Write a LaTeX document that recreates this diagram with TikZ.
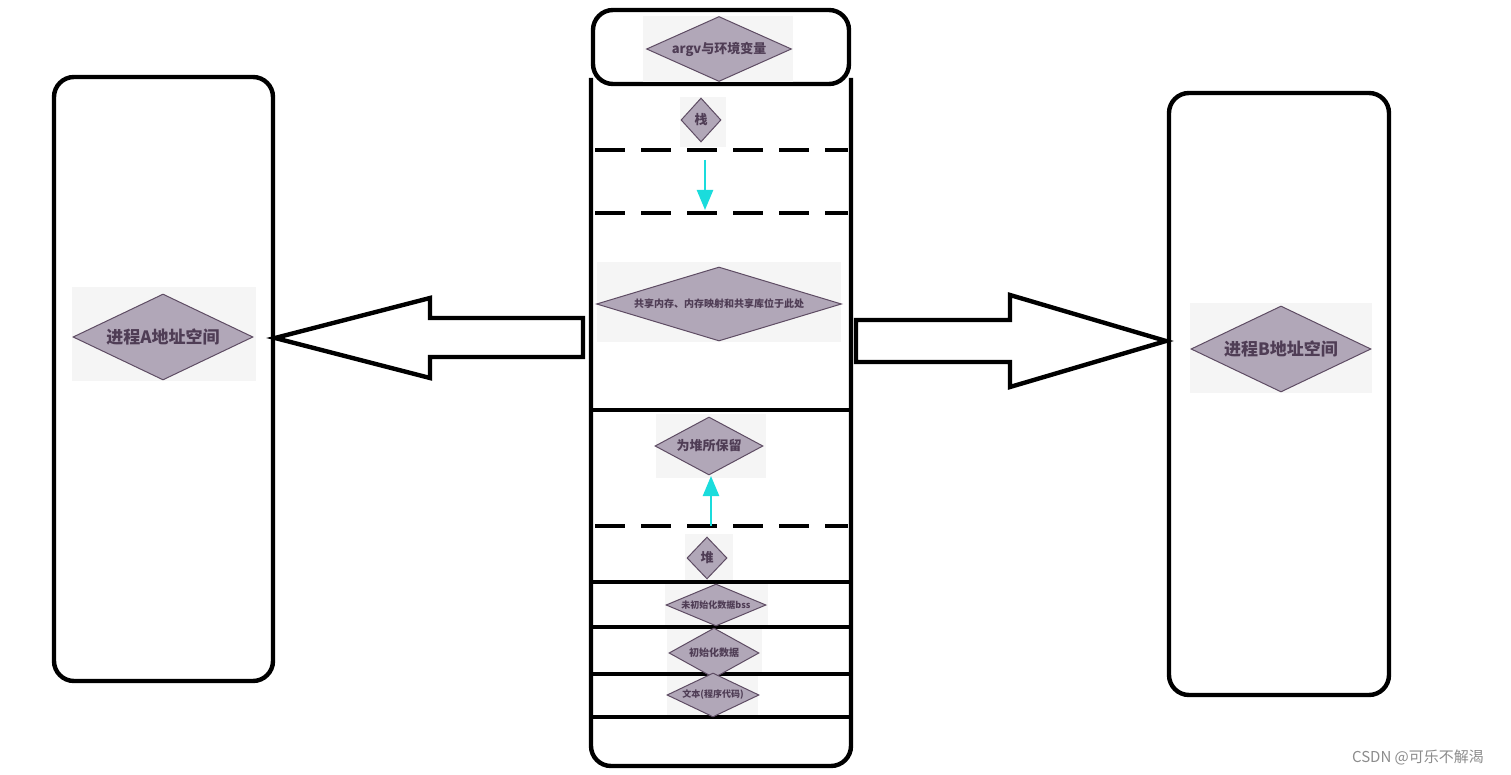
\documentclass[tikz,border=0pt]{standalone}
\usepackage{fontspec}
\setmainfont{Noto Sans CJK SC}
\usetikzlibrary{shapes.geometric,arrows.meta}
\definecolor{dfill}{HTML}{B1A7B8}
\definecolor{dline}{HTML}{5E4C63}
\definecolor{dtext}{HTML}{4F3D55}
\definecolor{arr}{HTML}{1ADCDC}
\tikzset{
 dia/.style={diamond,aspect=#1,draw=dline,fill=dfill,text=dtext,font=\bfseries,inner sep=0pt,line width=0.5pt},
 dia/.default=2,
 thick4/.style={line width=2.2pt},
 dsh/.style={line width=2.2pt,dash pattern=on 15pt off 8pt},
 bg/.style={fill=black!4,draw=none},
 cy/.style={arr,line width=1.2pt,-{Triangle[length=10pt,width=8pt]}}
}
\begin{document}
\begin{tikzpicture}[x=0.5pt,y=-0.5pt]
\useasboundingbox[fill=white] (0,0) rectangle (1511,775);
% center column
\draw[thick4,rounded corners=10pt] (591,78) -- (591,766) -- (851,766) -- (851,78);
\draw[thick4,rounded corners=10pt,fill=white] (593,10) rectangle (849,84);
\fill[bg] (643,16) rectangle (793,82);
\node[dia=2.2,minimum width=145*0.5pt,minimum height=65*0.5pt,font=\bfseries\fontsize{6.5}{7}\selectfont] (argv) at (719,49) {argv与环境变量};
\fill[bg] (680,97) rectangle (726,147);
\node[dia=1,minimum width=20pt,minimum height=22pt,font=\bfseries\fontsize{6.5}{7}\selectfont] (zhan) at (701,120) {栈};
\coordinate (d1l) at (595,150); \coordinate (d1r) at (848,150);
\coordinate (d2l) at (595,213); \coordinate (d2r) at (848,213);
\draw[dsh] (d1l) -- (d1r);
\draw[dsh] (d2l) -- (d2r);
\coordinate (a1s) at (705,160); \coordinate (a1e) at (705,210);
\draw[cy] (a1s) -- (a1e);
\fill[bg] (597,262) rectangle (841,342);
\node[dia=3.3,minimum width=245*0.5pt,minimum height=74*0.5pt,font=\bfseries\fontsize{5}{6}\selectfont] (share) at (719,304) {共享内存、内存映射和共享库位于此处};
\draw[thick4] (591,410) -- (851,410);
\fill[bg] (656,414) rectangle (766,478);
\node[dia=1.9,minimum width=108*0.5pt,minimum height=58*0.5pt,font=\bfseries\fontsize{6.5}{7}\selectfont] (heapres) at (709,446) {为堆所保留};
\draw[dsh] (595,526) -- (848,526);
\coordinate (a2s) at (711,526); \coordinate (a2e) at (711,476);
\draw[cy] (a2s) -- (a2e);
\fill[bg] (685,534) rectangle (733,582);
\node[dia=1,minimum width=20pt,minimum height=21pt,font=\bfseries\fontsize{6.5}{7}\selectfont] (dui) at (707,558) {堆};
\fill[bg] (665,583) rectangle (768,627);
\fill[bg] (667,628) rectangle (762,676);
\fill[bg] (667,676) rectangle (758,718);
\draw[thick4] (591,582) -- (853,582);
\draw[thick4] (591,627) -- (853,627);
\draw[thick4] (591,674) -- (853,674);
\draw[thick4] (591,717) -- (851,717);
\node[dia=2.4,minimum width=100*0.5pt,minimum height=42*0.5pt,font=\bfseries\fontsize{4.5}{5}\selectfont] (bss) at (716,605) {未初始化数据bss};
\node[dia=1.8,minimum width=90*0.5pt,minimum height=50*0.5pt,font=\bfseries\fontsize{5}{6}\selectfont] (data) at (714,653) {初始化数据};
\node[dia=2.1,minimum width=92*0.5pt,minimum height=44*0.5pt,font=\bfseries\fontsize{4.5}{5}\selectfont] (text) at (713,695) {文本(程序代码)};
% left box
\draw[thick4,rounded corners=10pt] (54,77) rectangle (273,681);
\fill[bg] (72,287) rectangle (256,381);
\node[dia=2.1,minimum width=90pt,minimum height=43pt,font=\bfseries\fontsize{8.5}{9}\selectfont] (A) at (163,337) {进程A地址空间};
% right box
\draw[thick4,rounded corners=10pt] (1169,93) rectangle (1389,695);
\fill[bg] (1190,303) rectangle (1372,393);
\node[dia=2.1,minimum width=90pt,minimum height=43pt,font=\bfseries\fontsize{8.5}{9}\selectfont] (B) at (1281,349) {进程B地址空间};
% big hollow arrows
\draw[thick4,line join=miter] (583,318) -- (430,318) -- (430,298) -- (275,338) -- (430,378) -- (430,357) -- (583,357) -- cycle;
\draw[thick4,line join=miter] (856,320) -- (1010,320) -- (1010,295) -- (1166,341) -- (1010,387) -- (1010,362) -- (856,362) -- cycle;
\node[text=black!45,font=\fontsize{7.5}{8}\selectfont] (wm) at (1418,757) {CSDN @可乐不解渴};
\end{tikzpicture}
\end{document}
